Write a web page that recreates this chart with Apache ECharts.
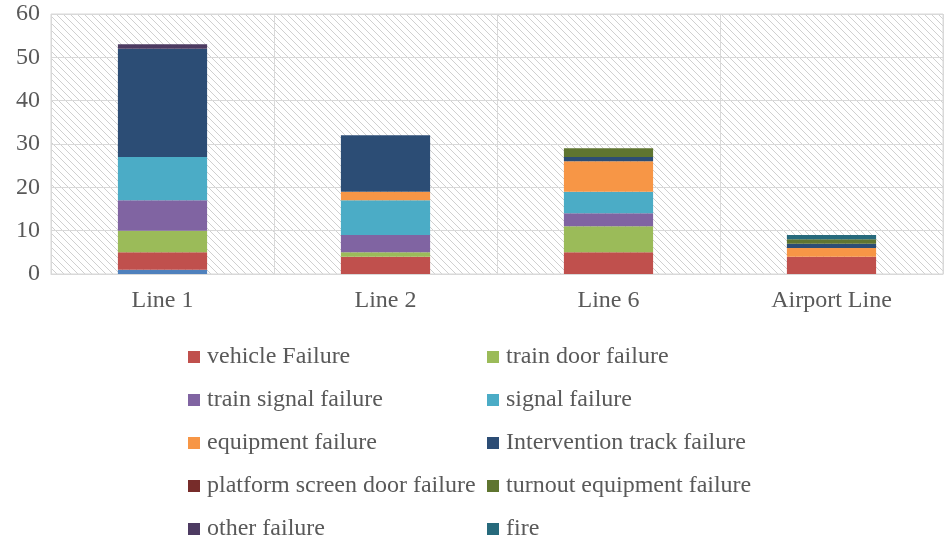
<!DOCTYPE html>
<html>
<head>
<meta charset="utf-8">
<script src="https://cdn.jsdelivr.net/npm/echarts@6/dist/echarts.min.js"></script>
<style>html,body{margin:0;padding:0;background:#fff;}#c{width:950px;height:541px;}</style>
</head>
<body>
<div id="c"></div>
<script>
const categories = ['Line 1', 'Line 2', 'Line 6', 'Airport Line'];
const yTicks = [0, 10, 20, 30, 40, 50, 60];
const unlabeled = [1, 0, 0, 0];
const vehicleFailure = [4, 4, 5, 4];
const trainDoorFailure = [5, 1, 6, 0];
const trainSignalFailure = [7, 4, 3, 0];
const signalFailure = [10, 8, 5, 0];
const equipmentFailure = [0, 2, 7, 2];
const interventionTrackFailure = [25, 13, 1, 1];
const platformScreenDoorFailure = [0, 0, 0, 0];
const turnoutEquipmentFailure = [0, 0, 2, 1];
const otherFailure = [1, 0, 0, 0];
const fire = [0, 0, 0, 1];

const seriesDefs = [
  ['', unlabeled, '#4F81BD'],
  ['vehicle Failure', vehicleFailure, '#C0504D'],
  ['train door failure', trainDoorFailure, '#9BBB59'],
  ['train signal failure', trainSignalFailure, '#8064A2'],
  ['signal failure', signalFailure, '#4BACC6'],
  ['equipment failure', equipmentFailure, '#F79646'],
  ['Intervention track failure', interventionTrackFailure, '#2C4D75'],
  ['platform screen door failure', platformScreenDoorFailure, '#772C2A'],
  ['turnout equipment failure', turnoutEquipmentFailure, '#5F7530'],
  ['other failure', otherFailure, '#4D3B62'],
  ['fire', fire, '#276A7C']
];

// hatch pattern
const tile = document.createElement('canvas');
tile.width = 7; tile.height = 7;
const cx = tile.getContext('2d');
cx.fillStyle = '#ffffff'; cx.fillRect(0, 0, 7, 7);
cx.strokeStyle = '#d0d0d0'; cx.lineWidth = 1;
cx.beginPath();
cx.moveTo(-1, -1); cx.lineTo(8, 8);
cx.moveTo(-8, -1); cx.lineTo(1, 8);
cx.moveTo(6, -1); cx.lineTo(15, 8);
cx.stroke();

const font = 'Liberation Serif';
const txt = '#595959';
const leftCol = ['vehicle Failure', 'train signal failure', 'equipment failure', 'platform screen door failure', 'other failure'];
const rightCol = ['train door failure', 'signal failure', 'Intervention track failure', 'turnout equipment failure', 'fire'];
const legendCommon = {
  orient: 'vertical', top: 345, height: 200, itemWidth: 12, itemHeight: 12, itemGap: 19, icon: 'rect',
  padding: 0,
  textStyle: { fontFamily: font, fontSize: 24, color: txt, padding: [0, 0, 0, 2] }
};

const chart = echarts.init(document.getElementById('c'));
chart.setOption({
  animation: false,
  backgroundColor: '#fff',
  grid: { left: 51, right: 7, top: 14, height: 260, show: true,
    backgroundColor: { image: tile, repeat: 'repeat' }, borderColor: '#d9d9d9', borderWidth: 1 },
  legend: [
    Object.assign({ left: 188, data: leftCol }, legendCommon),
    Object.assign({ left: 487, data: rightCol }, legendCommon)
  ],
  xAxis: {
    type: 'category', data: categories,
    axisLine: { lineStyle: { color: '#d9d9d9' } }, axisTick: { show: false },
    splitLine: { show: true, lineStyle: { color: '#d9d9d9' } },
    axisLabel: { fontFamily: font, fontSize: 24, color: txt, margin: 15 }
  },
  yAxis: {
    type: 'value', min: 0, max: 60, interval: 10,
    axisLine: { show: false }, axisTick: { show: false },
    splitLine: { lineStyle: { color: '#d9d9d9' } },
    axisLabel: { fontFamily: font, fontSize: 24, color: txt, margin: 11,
      formatter: v => yTicks.includes(v) ? String(v) : '' }
  },
  series: seriesDefs.map(([name, data, color]) => ({
    name, type: 'bar', stack: 'total', data, barWidth: '40%',
    itemStyle: { color }
  }))
});
</script>
</body>
</html>
